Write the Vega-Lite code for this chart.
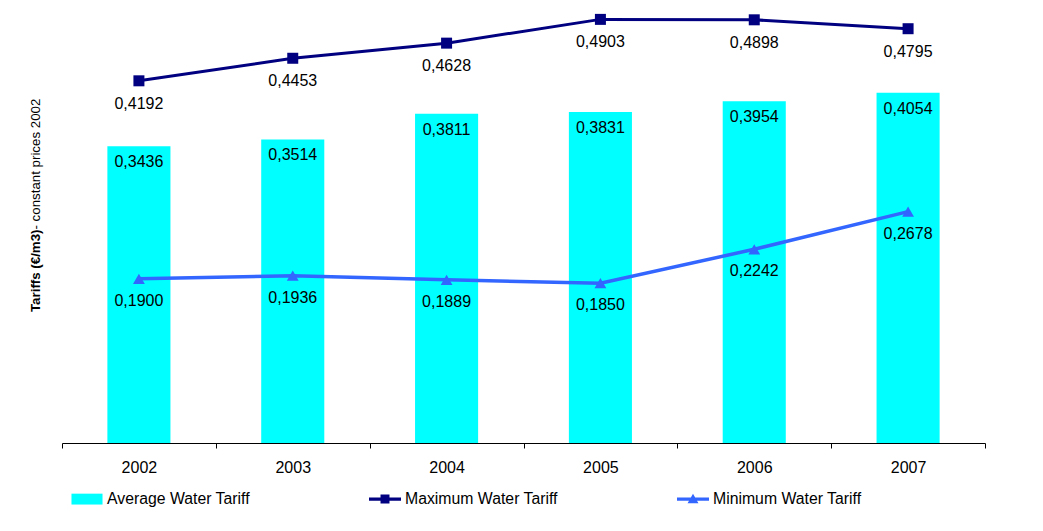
{
  "$schema": "https://vega.github.io/schema/vega-lite/v6.json",
  "width": 923,
  "height": 432,
  "autosize": {"type": "none"},
  "padding": {"left": 62, "top": 11, "right": 58, "bottom": 88},
  "background": "white",
  "config": {
    "view": {"stroke": null},
    "font": "Liberation Sans",
    "locale": {"number": {"decimal": ",", "thousands": ".", "grouping": [3], "currency": ["", " €"]}}
  },
  "data": {
    "values": [
      {"year": "2002", "avg": 0.3436, "max": 0.4192, "min": 0.19},
      {"year": "2003", "avg": 0.3514, "max": 0.4453, "min": 0.1936},
      {"year": "2004", "avg": 0.3811, "max": 0.4628, "min": 0.1889},
      {"year": "2005", "avg": 0.3831, "max": 0.4903, "min": 0.185},
      {"year": "2006", "avg": 0.3954, "max": 0.4898, "min": 0.2242},
      {"year": "2007", "avg": 0.4054, "max": 0.4795, "min": 0.2678}
    ]
  },
  "resolve": {"axis": {"y": "independent"}},
  "encoding": {
    "x": {
      "field": "year",
      "type": "ordinal",
      "scale": {"paddingInner": 0, "paddingOuter": 0},
      "axis": {
        "title": null,
        "labelAngle": 0,
        "domainColor": "#000000",
        "tickColor": "#000000",
        "tickSize": 5,
        "tickBand": "extent",
        "labelFontSize": 16,
        "labelColor": "#000000",
        "labelPadding": 11
      }
    }
  },
  "layer": [
    {
      "mark": {"type": "bar", "width": {"band": 0.41}},
      "encoding": {
        "y": {
          "field": "avg",
          "type": "quantitative",
          "scale": {"domain": [0, 0.5]},
          "axis": {
            "orient": "left",
            "domain": false,
            "ticks": false,
            "labels": false,
            "grid": false,
            "title": "Tariffs (€/m3)",
            "titleFontSize": 13.3,
            "titleFontWeight": "bold",
            "titleColor": "#000000",
            "titleX": -27,
            "titleY": 218,
            "titleAngle": -90,
            "titleAlign": "right",
            "titleBaseline": "middle"
          }
        },
        "color": {
          "datum": "Average Water Tariff",
          "type": "nominal",
          "scale": {
            "domain": ["Average Water Tariff", "Maximum Water Tariff", "Minimum Water Tariff"],
            "range": ["#00FFFF", "#000080", "#3366FF"]
          },
          "legend": {
            "title": null,
            "orient": "none",
            "legendX": 9,
            "legendY": 472,
            "direction": "horizontal",
            "columnPadding": 119,
            "padding": 0,
            "labelFontSize": 15.8,
            "labelColor": "#000000",
            "labelOffset": 4,
            "symbolSize": 1024,
            "encode": {
              "symbols": {
                "update": {
                  "shape": {"signal": "datum.value === 'Average Water Tariff' ? 'M-0.97,-0.34H0.97V0.34H-0.97Z' : datum.value === 'Maximum Water Tariff' ? 'M-1,-0.1H1V0.1H-1Z M-0.28,-0.28H0.28V0.28H-0.28Z' : 'M-1,-0.1H1V0.1H-1Z M-0.34,0.26L0,-0.34L0.34,0.26Z'"},
                  "fill": {"scale": "color", "field": "value"},
                  "stroke": {"value": "transparent"},
                  "strokeWidth": {"value": 0},
                  "size": {"value": 1024},
                  "opacity": {"value": 1}
                }
              }
            }
          }
        }
      }
    },
    {
      "mark": {"type": "text", "dy": 16, "baseline": "middle", "fontSize": 16, "color": "#000000"},
      "encoding": {
        "y": {
          "field": "avg",
          "type": "quantitative",
          "axis": {
            "orient": "left",
            "offset": 0,
            "domain": false,
            "ticks": false,
            "labels": false,
            "grid": false,
            "title": "- constant prices 2002",
            "titleFontSize": 13.3,
            "titleFontWeight": "normal",
            "titleColor": "#000000",
            "titleX": -27,
            "titleY": 218,
            "titleAngle": -90,
            "titleAlign": "left",
            "titleBaseline": "middle"
          }
        },
        "text": {"field": "avg", "type": "quantitative", "format": ".4f"}
      }
    },
    {
      "mark": {"type": "line", "strokeWidth": 3, "point": {"shape": "square", "size": 121, "filled": true}},
      "encoding": {
        "y": {"field": "max", "type": "quantitative", "axis": null},
        "color": {"datum": "Maximum Water Tariff", "type": "nominal"}
      }
    },
    {
      "mark": {"type": "text", "dy": 23, "baseline": "middle", "fontSize": 16, "color": "#000000"},
      "encoding": {
        "y": {"field": "max", "type": "quantitative", "axis": null},
        "text": {"field": "max", "type": "quantitative", "format": ".4f"}
      }
    },
    {
      "mark": {"type": "line", "strokeWidth": 3.5, "point": {"shape": "triangle-up", "size": 140, "filled": true}},
      "encoding": {
        "y": {"field": "min", "type": "quantitative", "axis": null},
        "color": {"datum": "Minimum Water Tariff", "type": "nominal"}
      }
    },
    {
      "mark": {"type": "text", "dy": 22, "baseline": "middle", "fontSize": 16, "color": "#000000"},
      "encoding": {
        "y": {"field": "min", "type": "quantitative", "axis": null},
        "text": {"field": "min", "type": "quantitative", "format": ".4f"}
      }
    }
  ]
}
